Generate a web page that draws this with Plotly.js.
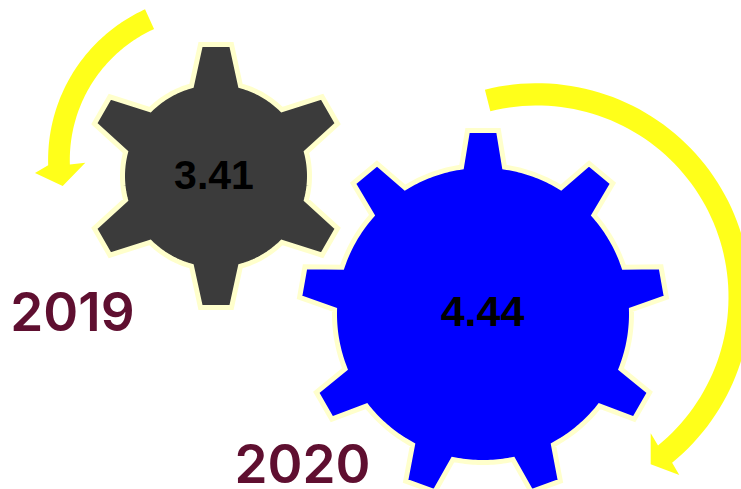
<!DOCTYPE html>
<html><head><meta charset="utf-8">
<script src="https://cdn.plot.ly/plotly-3.0.1.min.js"></script>
<style>html,body{margin:0;padding:0;background:#fff;overflow:hidden}#c{width:741px;height:489px}</style>
</head><body><div id="c"></div>
<script>
// Data
const years = ["2019", "2020"];
const values = [3.41, 4.44];
const gearFill = ["#3b3b3b", "#0000ff"];
const toothCounts = [6, 9];

// Drawing geometry (px-based plot space)
const W = 741, H = 489;
const gearGeom = [
  {cx:216, cy:176, body:93.5, tip:131.5, tipHalf:15.5, baseHalf:24.5, labelX:214, labelY:179, fs:41},
  {cx:483, cy:314, body:148.5, tip:183.5, tipHalf:15.5, baseHalf:21.5, labelX:482.5, labelY:315, fs:43}
];
const yearPos = [{x:72.5, y:318}, {x:302.5, y:470}];
const arrows = [
  {cx:213.7, cy:160, rIn:143.9, rOut:165.6, a0:245.5, a1:178.2, head:[[35,173],[62.7,186],[85.3,162.7]]},
  {cx:537, cy:297, rIn:191.5, rOut:213.8, a0:-104.1, a1:50.8, head:[[650.7,433.3],[650.7,464.3],[679.3,475]]}
];
const rad = d => d*Math.PI/180;

function gearPath(g, n){
  const xs=[], ys=[];
  const step = 360/n;
  const baseU = Math.sqrt(g.body*g.body - g.baseHalf*g.baseHalf);
  const baseAng = Math.atan2(g.baseHalf, baseU)*180/Math.PI;
  for(let k=0;k<n;k++){
    const a = -90 + k*step;            // screen angle of tooth axis
    const c = Math.cos(rad(a)), s = Math.sin(rad(a));
    const pt = (u,v)=>{xs.push(g.cx+u*c-v*s); ys.push(g.cy+u*s+v*c);};
    pt(baseU,-g.baseHalf); pt(g.tip,-g.tipHalf); pt(g.tip,g.tipHalf); pt(baseU,g.baseHalf);
    // body arc to next tooth
    const from = a+baseAng, to = a+step-baseAng;
    for(let i=1;i<24;i++){
      const t = from+(to-from)*i/24;
      xs.push(g.cx+g.body*Math.cos(rad(t))); ys.push(g.cy+g.body*Math.sin(rad(t)));
    }
  }
  // start and end the outline in the middle of the top tooth's tip so the seam is invisible
  const midX = g.cx, midY = g.cy - g.tip;
  return {
    x:[midX, ...xs.slice(2), ...xs.slice(0,2), midX],
    y:[midY, ...ys.slice(2), ...ys.slice(0,2), midY]
  };
}
function arrowPath(a){
  const xs=[], ys=[], N=80;
  for(let i=0;i<=N;i++){
    const t=a.a0+(a.a1-a.a0)*i/N;
    xs.push(a.cx+a.rOut*Math.cos(rad(t))); ys.push(a.cy+a.rOut*Math.sin(rad(t)));
  }
  const h = a.a1 < a.a0 ? a.head : [a.head[2],a.head[1],a.head[0]];
  h.forEach(p=>{xs.push(p[0]); ys.push(p[1]);});
  for(let i=N;i>=0;i--){
    const t=a.a0+(a.a1-a.a0)*i/N;
    xs.push(a.cx+a.rIn*Math.cos(rad(t))); ys.push(a.cy+a.rIn*Math.sin(rad(t)));
  }
  xs.push(xs[0]); ys.push(ys[0]);
  return {x:xs,y:ys};
}

const traces = [];
arrows.forEach(a=>{
  const p=arrowPath(a);
  traces.push({type:'scatter',mode:'lines',x:p.x,y:p.y,fill:'toself',fillcolor:'#ffff1a',
    line:{width:0,color:'#ffff1a',simplify:false},hoverinfo:'skip',showlegend:false});
});
gearGeom.forEach((g,i)=>{
  const p=gearPath(g,toothCounts[i]);
  traces.push({type:'scatter',mode:'lines',x:p.x,y:p.y,fill:'toself',fillcolor:gearFill[i],
    line:{width:5,color:'#ffffcc',simplify:false},hoverinfo:'skip',showlegend:false});
});
traces.push({type:'scatter',mode:'text',
  x:gearGeom.map(g=>g.labelX), y:gearGeom.map(g=>g.labelY),
  text:values.map(v=>v.toFixed(2)), textposition:'middle center',
  textfont:{family:'"Liberation Sans",Arial,sans-serif',size:gearGeom.map(g=>g.fs),color:'#000000',weight:700},
  hoverinfo:'skip',showlegend:false});
traces.push({type:'scatter',mode:'text',
  x:yearPos.map(p=>p.x), y:yearPos.map(p=>p.y),
  text:years, textposition:'middle center',
  textfont:{family:'Inter,"Noto Sans",sans-serif',size:53,color:'#5f0f30',weight:600},
  hoverinfo:'skip',showlegend:false});

const layout = {
  width:W,height:H,margin:{l:0,r:0,t:0,b:0},
  paper_bgcolor:'#ffffff',plot_bgcolor:'#ffffff',showlegend:false,
  xaxis:{range:[0,W],visible:false,fixedrange:true},
  yaxis:{range:[H,0],visible:false,fixedrange:true}
};
Plotly.newPlot('c',traces,layout,{displayModeBar:false,staticPlot:true});
</script></body></html>
